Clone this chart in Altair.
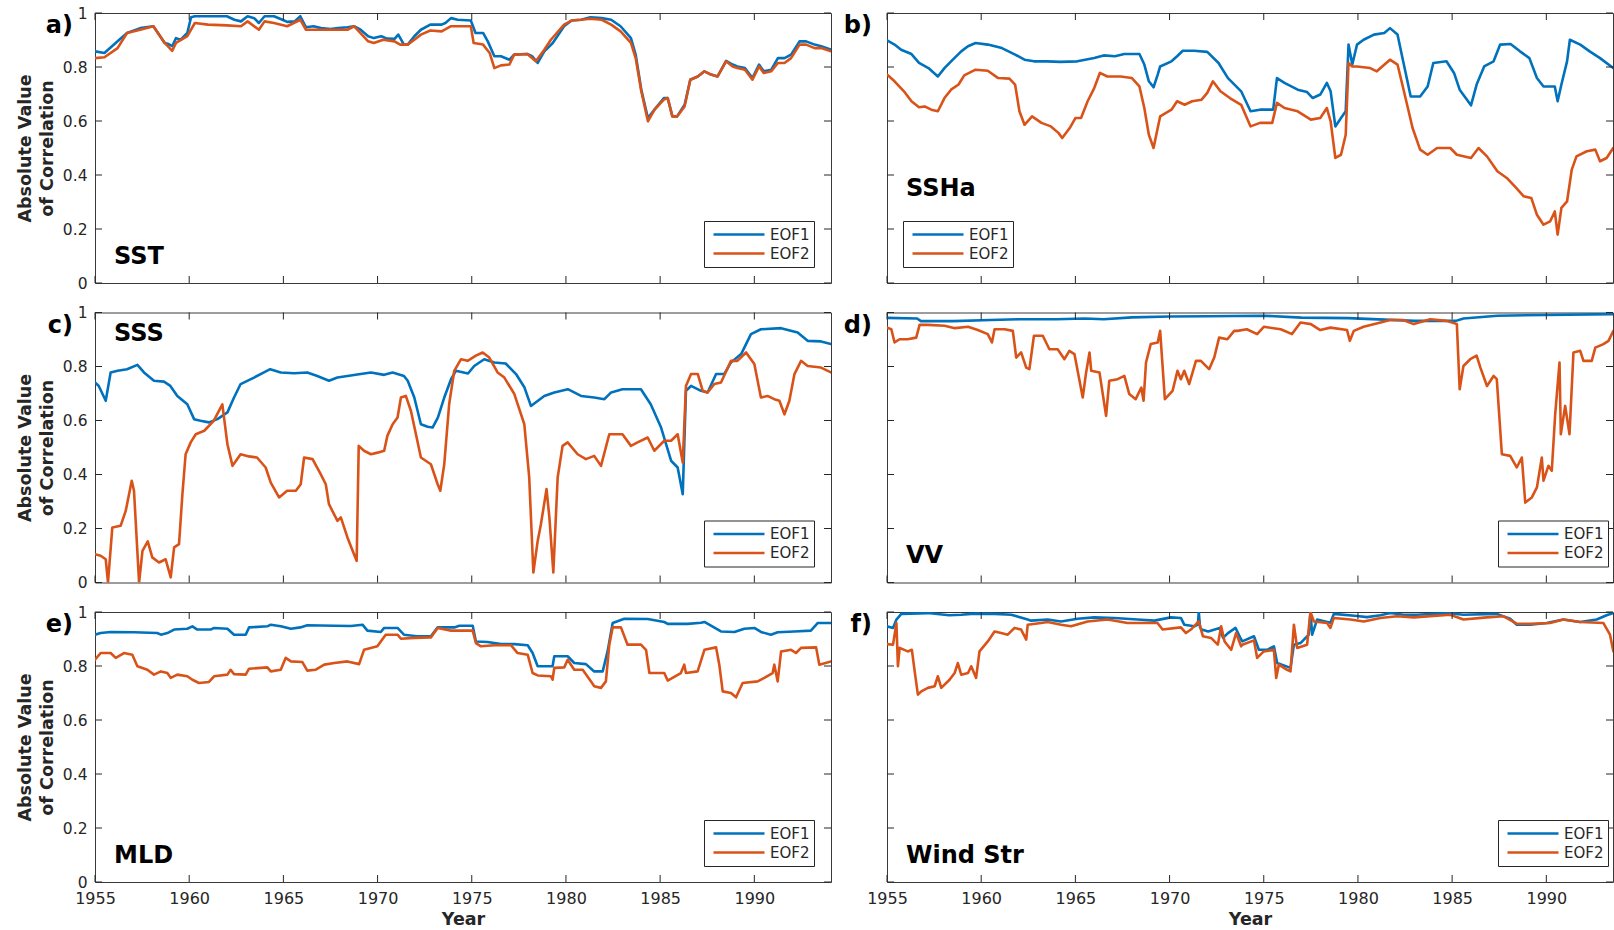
import altair as alt
import pandas as pd

FONT = "DejaVu Sans"
INK = "#262626"
BOX = "#3a3a3a"
SERIES = ["EOF1", "EOF2"]
SERIES_COLORS = ["#0072BD", "#D95319"]
YEAR_TICKS = [1955, 1960, 1965, 1970, 1975, 1980, 1985, 1990]
CORR_TICKS = [0, 0.2, 0.4, 0.6, 0.8, 1]
Y_TITLE = ["Absolute Value", "of Correlation"]

# (year, |correlation|) pairs for each variable and EOF
SST_EOF1 = [
    (1955.0, 0.858), (1955.5, 0.852), (1956.2, 0.895), (1956.7, 0.926), (1957.4, 0.944),
    (1958.1, 0.951), (1958.7, 0.889), (1958.9, 0.885), (1959.1, 0.877), (1959.3, 0.907),
    (1959.55, 0.901), (1959.9, 0.926), (1960.1, 0.984), (1960.3, 0.988), (1961.0, 0.988),
    (1962.0, 0.988), (1962.4, 0.975), (1962.75, 0.969), (1963.1, 0.988), (1963.45, 0.981),
    (1963.7, 0.963), (1964.0, 0.988), (1964.5, 0.988), (1964.95, 0.975), (1965.2, 0.967),
    (1965.6, 0.969), (1965.9, 0.988), (1966.2, 0.947), (1966.6, 0.951), (1967.0, 0.944),
    (1967.5, 0.941), (1967.9, 0.944), (1968.4, 0.947), (1968.75, 0.951), (1969.1, 0.938),
    (1969.5, 0.914), (1969.8, 0.907), (1970.2, 0.914), (1970.5, 0.905), (1970.9, 0.904),
    (1971.1, 0.920), (1971.4, 0.883), (1971.6, 0.883), (1971.95, 0.914), (1972.3, 0.938),
    (1972.8, 0.957), (1973.4, 0.957), (1973.6, 0.963), (1973.9, 0.981), (1974.25, 0.975),
    (1974.95, 0.972), (1975.2, 0.926), (1975.6, 0.926), (1975.85, 0.895), (1976.2, 0.840),
    (1976.55, 0.840), (1977.0, 0.827), (1977.25, 0.846), (1977.95, 0.848), (1978.2, 0.840),
    (1978.5, 0.815), (1978.85, 0.858), (1979.3, 0.889), (1979.9, 0.951), (1980.3, 0.972),
    (1980.8, 0.975), (1981.3, 0.984), (1981.9, 0.981), (1982.4, 0.975), (1982.9, 0.951),
    (1983.45, 0.907), (1983.7, 0.846), (1984.0, 0.716), (1984.35, 0.611), (1984.7, 0.642),
    (1985.2, 0.685), (1985.4, 0.685), (1985.65, 0.617), (1985.9, 0.617), (1986.3, 0.660),
    (1986.6, 0.753), (1987.0, 0.765), (1987.35, 0.784), (1987.7, 0.772), (1988.05, 0.765),
    (1988.5, 0.823), (1988.85, 0.809), (1989.1, 0.802), (1989.5, 0.796), (1989.9, 0.759),
    (1990.25, 0.809), (1990.5, 0.784), (1990.9, 0.790), (1991.25, 0.833), (1991.6, 0.833),
    (1991.95, 0.846), (1992.4, 0.895), (1992.75, 0.895), (1993.2, 0.883), (1993.55, 0.877),
    (1994.07, 0.864),
]
SST_EOF2 = [
    (1955.0, 0.833), (1955.5, 0.836), (1956.2, 0.870), (1956.7, 0.926), (1957.4, 0.938),
    (1958.1, 0.951), (1958.7, 0.889), (1959.1, 0.860), (1959.3, 0.889), (1959.9, 0.914),
    (1960.3, 0.963), (1961.0, 0.957), (1962.0, 0.954), (1962.75, 0.951), (1963.1, 0.969),
    (1963.7, 0.938), (1964.0, 0.969), (1964.5, 0.963), (1965.2, 0.951), (1965.9, 0.975),
    (1966.2, 0.938), (1967.0, 0.938), (1968.4, 0.938), (1968.75, 0.951), (1969.5, 0.895),
    (1969.8, 0.889), (1970.3, 0.901), (1970.9, 0.895), (1971.2, 0.883), (1971.6, 0.883),
    (1971.95, 0.901), (1972.3, 0.920), (1972.8, 0.935), (1973.4, 0.932), (1973.9, 0.951),
    (1974.95, 0.951), (1975.1, 0.889), (1975.6, 0.883), (1975.95, 0.852), (1976.2, 0.796),
    (1976.55, 0.806), (1977.0, 0.809), (1977.25, 0.846), (1977.95, 0.848), (1978.4, 0.821),
    (1978.85, 0.864), (1979.2, 0.901), (1979.9, 0.957), (1980.3, 0.972), (1980.8, 0.975),
    (1981.3, 0.979), (1981.9, 0.975), (1982.4, 0.957), (1982.9, 0.932), (1983.45, 0.889),
    (1983.7, 0.833), (1984.0, 0.710), (1984.35, 0.599), (1984.7, 0.642), (1985.2, 0.679),
    (1985.4, 0.685), (1985.65, 0.617), (1985.9, 0.617), (1986.3, 0.654), (1986.6, 0.753),
    (1987.0, 0.765), (1987.35, 0.784), (1987.7, 0.772), (1988.05, 0.765), (1988.5, 0.821),
    (1988.85, 0.802), (1989.1, 0.796), (1989.5, 0.790), (1989.9, 0.753), (1990.25, 0.802),
    (1990.5, 0.778), (1990.9, 0.784), (1991.25, 0.815), (1991.6, 0.815), (1991.95, 0.833),
    (1992.4, 0.883), (1992.75, 0.883), (1993.2, 0.870), (1993.55, 0.870), (1994.07, 0.858),
]

SSHA_EOF1 = [
    (1955.0, 0.899), (1955.4, 0.883), (1955.75, 0.864), (1956.3, 0.848), (1956.7, 0.815),
    (1957.2, 0.796), (1957.7, 0.765), (1958.05, 0.796), (1958.4, 0.821), (1958.94, 0.858),
    (1959.3, 0.877), (1959.7, 0.889), (1960.35, 0.883), (1961.1, 0.870), (1961.8, 0.846),
    (1962.3, 0.827), (1962.8, 0.821), (1963.5, 0.821), (1964.2, 0.819), (1965.1, 0.821),
    (1966.0, 0.833), (1966.5, 0.843), (1967.1, 0.840), (1967.6, 0.848), (1968.4, 0.848),
    (1968.66, 0.809), (1968.9, 0.747), (1969.15, 0.725), (1969.37, 0.772), (1969.5, 0.802),
    (1970.1, 0.821), (1970.4, 0.840), (1970.7, 0.860), (1971.3, 0.860), (1972.0, 0.856),
    (1972.6, 0.815), (1973.1, 0.759), (1973.8, 0.710), (1974.3, 0.636), (1974.8, 0.642),
    (1975.5, 0.642), (1975.7, 0.759), (1976.1, 0.741), (1976.8, 0.716), (1977.3, 0.707),
    (1977.6, 0.685), (1978.0, 0.698), (1978.35, 0.741), (1978.55, 0.710), (1978.8, 0.580),
    (1979.1, 0.611), (1979.35, 0.636), (1979.5, 0.883), (1979.7, 0.809), (1979.95, 0.883),
    (1980.3, 0.901), (1980.85, 0.920), (1981.4, 0.926), (1981.7, 0.944), (1982.1, 0.920),
    (1982.4, 0.821), (1982.8, 0.691), (1983.3, 0.691), (1983.7, 0.728), (1984.0, 0.815),
    (1984.7, 0.821), (1985.1, 0.778), (1985.4, 0.716), (1986.0, 0.658), (1986.3, 0.735),
    (1986.7, 0.802), (1987.2, 0.821), (1987.55, 0.883), (1988.1, 0.885), (1988.6, 0.858),
    (1989.1, 0.833), (1989.5, 0.759), (1989.85, 0.728), (1990.45, 0.728), (1990.6, 0.673),
    (1990.8, 0.735), (1991.1, 0.821), (1991.25, 0.901), (1991.8, 0.883), (1992.3, 0.858),
    (1992.85, 0.833), (1993.55, 0.796), (1994.07, 0.790),
]
SSHA_EOF2 = [
    (1955.0, 0.772), (1955.4, 0.747), (1955.9, 0.710), (1956.3, 0.673), (1956.7, 0.651),
    (1957.0, 0.654), (1957.35, 0.642), (1957.7, 0.636), (1958.05, 0.685), (1958.4, 0.716),
    (1958.8, 0.735), (1959.1, 0.769), (1959.7, 0.790), (1960.35, 0.786), (1960.9, 0.759),
    (1961.5, 0.757), (1961.8, 0.735), (1962.03, 0.636), (1962.3, 0.586), (1962.7, 0.617),
    (1963.2, 0.593), (1963.7, 0.580), (1964.1, 0.556), (1964.3, 0.537), (1964.7, 0.574),
    (1965.0, 0.611), (1965.3, 0.611), (1965.65, 0.673), (1966.0, 0.722), (1966.3, 0.778),
    (1966.7, 0.765), (1967.4, 0.765), (1968.0, 0.759), (1968.4, 0.728), (1968.66, 0.648),
    (1968.9, 0.549), (1969.15, 0.500), (1969.37, 0.574), (1969.5, 0.617), (1970.1, 0.642),
    (1970.4, 0.673), (1970.8, 0.660), (1971.2, 0.673), (1971.7, 0.679), (1972.0, 0.704),
    (1972.3, 0.747), (1972.7, 0.710), (1973.2, 0.685), (1973.8, 0.660), (1974.3, 0.580),
    (1974.8, 0.593), (1975.45, 0.593), (1975.7, 0.667), (1976.1, 0.648), (1976.8, 0.636),
    (1977.5, 0.605), (1978.0, 0.611), (1978.35, 0.648), (1978.55, 0.599), (1978.8, 0.463),
    (1979.1, 0.475), (1979.35, 0.549), (1979.5, 0.815), (1979.7, 0.802), (1979.95, 0.802),
    (1980.65, 0.796), (1981.0, 0.784), (1981.7, 0.827), (1982.1, 0.809), (1982.4, 0.722),
    (1982.9, 0.574), (1983.3, 0.494), (1983.7, 0.475), (1984.2, 0.500), (1984.9, 0.500),
    (1985.25, 0.475), (1986.0, 0.463), (1986.4, 0.500), (1986.85, 0.469), (1987.4, 0.414),
    (1987.9, 0.389), (1988.4, 0.352), (1988.8, 0.321), (1989.2, 0.315), (1989.5, 0.253),
    (1989.85, 0.216), (1990.2, 0.228), (1990.45, 0.265), (1990.6, 0.179), (1990.8, 0.278),
    (1991.1, 0.302), (1991.35, 0.420), (1991.6, 0.469), (1992.15, 0.488), (1992.6, 0.494),
    (1992.85, 0.451), (1993.2, 0.463), (1993.55, 0.500), (1994.07, 0.512),
]

SSS_EOF1 = [
    (1955.0, 0.741), (1955.2, 0.728), (1955.57, 0.673), (1955.83, 0.778), (1956.2, 0.784),
    (1956.7, 0.790), (1957.25, 0.806), (1957.6, 0.778), (1958.13, 0.747), (1958.66, 0.744),
    (1959.0, 0.728), (1959.37, 0.691), (1959.9, 0.660), (1960.26, 0.605), (1960.6, 0.599),
    (1961.05, 0.593), (1961.5, 0.605), (1962.03, 0.630), (1962.38, 0.685), (1962.73, 0.735),
    (1963.44, 0.759), (1963.97, 0.778), (1964.3, 0.790), (1964.86, 0.778), (1965.57, 0.775),
    (1966.27, 0.778), (1966.8, 0.765), (1967.42, 0.747), (1967.87, 0.759), (1968.4, 0.765),
    (1969.1, 0.772), (1969.65, 0.778), (1970.35, 0.769), (1970.8, 0.778), (1971.4, 0.765),
    (1971.6, 0.747), (1971.95, 0.685), (1972.3, 0.586), (1972.66, 0.577), (1972.92, 0.574),
    (1973.2, 0.611), (1973.54, 0.685), (1973.9, 0.753), (1974.16, 0.784), (1974.8, 0.774),
    (1975.13, 0.802), (1975.66, 0.827), (1976.2, 0.815), (1976.8, 0.811), (1977.35, 0.772),
    (1977.8, 0.722), (1978.14, 0.654), (1978.85, 0.691), (1979.38, 0.704), (1980.1, 0.716),
    (1980.8, 0.691), (1981.5, 0.685), (1982.04, 0.679), (1982.4, 0.704), (1983.0, 0.716),
    (1983.98, 0.716), (1984.5, 0.660), (1985.05, 0.574), (1985.58, 0.451), (1985.93, 0.426),
    (1986.2, 0.327), (1986.37, 0.710), (1986.64, 0.728), (1987.17, 0.710), (1987.52, 0.704),
    (1987.97, 0.772), (1988.4, 0.772), (1988.76, 0.815), (1989.3, 0.846), (1989.82, 0.920),
    (1990.35, 0.938), (1991.42, 0.942), (1992.3, 0.926), (1992.83, 0.895), (1993.54, 0.893),
    (1994.07, 0.883),
]
SSS_EOF2 = [
    (1955.0, 0.105), (1955.3, 0.099), (1955.57, 0.086), (1955.69, 0.0), (1955.92, 0.204),
    (1956.36, 0.210), (1956.63, 0.265), (1956.95, 0.377), (1957.07, 0.340), (1957.34, 0.0),
    (1957.52, 0.117), (1957.8, 0.152), (1958.04, 0.093), (1958.4, 0.074), (1958.75, 0.086),
    (1959.02, 0.019), (1959.2, 0.130), (1959.46, 0.142), (1959.64, 0.327), (1959.81, 0.475),
    (1960.08, 0.519), (1960.35, 0.549), (1960.8, 0.562), (1961.3, 0.599), (1961.76, 0.660),
    (1962.03, 0.512), (1962.3, 0.432), (1962.73, 0.475), (1963.17, 0.467), (1963.6, 0.463),
    (1964.06, 0.426), (1964.33, 0.370), (1964.77, 0.315), (1965.2, 0.340), (1965.66, 0.340),
    (1965.92, 0.364), (1966.1, 0.463), (1966.55, 0.457), (1966.98, 0.401), (1967.25, 0.364),
    (1967.42, 0.290), (1967.87, 0.228), (1968.05, 0.241), (1968.4, 0.167), (1968.75, 0.105),
    (1968.89, 0.080), (1969.0, 0.506), (1969.28, 0.488), (1969.65, 0.475), (1970.0, 0.481),
    (1970.35, 0.488), (1970.52, 0.543), (1970.8, 0.586), (1971.06, 0.611), (1971.24, 0.685),
    (1971.5, 0.691), (1971.77, 0.636), (1972.3, 0.463), (1972.83, 0.438), (1973.19, 0.364),
    (1973.33, 0.340), (1973.54, 0.438), (1973.8, 0.660), (1974.07, 0.784), (1974.43, 0.827),
    (1974.78, 0.821), (1975.22, 0.840), (1975.58, 0.852), (1975.93, 0.833), (1976.37, 0.778),
    (1976.73, 0.759), (1977.26, 0.698), (1977.79, 0.586), (1978.05, 0.389), (1978.27, 0.037),
    (1978.5, 0.154), (1978.67, 0.216), (1978.97, 0.346), (1979.12, 0.241), (1979.33, 0.037),
    (1979.56, 0.389), (1979.82, 0.506), (1980.09, 0.519), (1980.62, 0.475), (1981.06, 0.457),
    (1981.5, 0.469), (1981.86, 0.432), (1982.3, 0.549), (1983.0, 0.549), (1983.45, 0.506),
    (1983.8, 0.519), (1984.34, 0.537), (1984.69, 0.488), (1985.22, 0.525), (1985.58, 0.525),
    (1985.93, 0.549), (1986.2, 0.444), (1986.37, 0.728), (1986.64, 0.772), (1987.0, 0.772),
    (1987.26, 0.710), (1987.52, 0.704), (1987.88, 0.735), (1988.23, 0.741), (1988.76, 0.821),
    (1989.1, 0.821), (1989.56, 0.852), (1990.0, 0.809), (1990.35, 0.685), (1990.7, 0.691),
    (1991.06, 0.679), (1991.33, 0.673), (1991.6, 0.623), (1991.86, 0.673), (1992.13, 0.772),
    (1992.48, 0.821), (1992.83, 0.802), (1993.54, 0.796), (1994.07, 0.778),
]

VV_EOF1 = [
    (1955.0, 0.980), (1956.6, 0.978), (1956.8, 0.968), (1958.5, 0.968), (1960.5, 0.972),
    (1962.0, 0.975), (1964.0, 0.975), (1965.5, 0.978), (1966.5, 0.975), (1968.0, 0.982),
    (1970.0, 0.985), (1972.0, 0.986), (1975.0, 0.988), (1977.0, 0.981), (1979.5, 0.979),
    (1983.0, 0.969), (1985.2, 0.969), (1985.6, 0.978), (1987.4, 0.988), (1990.0, 0.991),
    (1993.5, 0.994), (1994.07, 0.994),
]
VV_EOF2 = [
    (1955.0, 0.944), (1955.23, 0.938), (1955.4, 0.889), (1955.67, 0.901), (1956.1, 0.901),
    (1956.55, 0.907), (1956.73, 0.954), (1957.17, 0.954), (1958.06, 0.951), (1958.6, 0.942),
    (1959.3, 0.947), (1959.82, 0.935), (1960.35, 0.920), (1960.57, 0.889), (1960.71, 0.938),
    (1961.24, 0.938), (1961.68, 0.932), (1961.86, 0.833), (1962.12, 0.852), (1962.39, 0.796),
    (1962.56, 0.790), (1962.8, 0.914), (1963.27, 0.914), (1963.62, 0.864), (1964.06, 0.864),
    (1964.42, 0.827), (1964.68, 0.858), (1964.95, 0.846), (1965.39, 0.685), (1965.57, 0.778),
    (1965.75, 0.852), (1965.84, 0.784), (1966.28, 0.778), (1966.63, 0.617), (1966.8, 0.747),
    (1967.24, 0.753), (1967.6, 0.765), (1967.86, 0.698), (1968.2, 0.679), (1968.5, 0.722),
    (1968.62, 0.673), (1968.75, 0.815), (1969.0, 0.883), (1969.37, 0.889), (1969.5, 0.932),
    (1969.75, 0.679), (1970.16, 0.710), (1970.42, 0.784), (1970.6, 0.753), (1970.78, 0.784),
    (1971.04, 0.735), (1971.4, 0.821), (1971.66, 0.821), (1972.1, 0.790), (1972.37, 0.833),
    (1972.63, 0.907), (1973.07, 0.901), (1973.43, 0.932), (1973.6, 0.932), (1974.1, 0.938),
    (1974.65, 0.920), (1975.0, 0.947), (1975.9, 0.938), (1976.5, 0.920), (1976.95, 0.963),
    (1977.5, 0.957), (1978.0, 0.935), (1978.54, 0.944), (1979.42, 0.935), (1979.57, 0.895),
    (1979.78, 0.932), (1980.3, 0.947), (1981.2, 0.963), (1981.7, 0.972), (1982.4, 0.972),
    (1982.96, 0.957), (1983.84, 0.975), (1984.7, 0.969), (1985.25, 0.957), (1985.4, 0.716),
    (1985.6, 0.802), (1985.96, 0.827), (1986.3, 0.840), (1986.5, 0.796), (1986.85, 0.728),
    (1987.2, 0.765), (1987.37, 0.753), (1987.64, 0.475), (1988.08, 0.469), (1988.43, 0.426),
    (1988.7, 0.463), (1988.88, 0.296), (1989.23, 0.315), (1989.5, 0.352), (1989.76, 0.463),
    (1989.85, 0.377), (1990.11, 0.432), (1990.29, 0.414), (1990.47, 0.623), (1990.7, 0.815),
    (1990.77, 0.549), (1991.0, 0.654), (1991.23, 0.549), (1991.44, 0.852), (1991.8, 0.858),
    (1991.97, 0.821), (1992.41, 0.821), (1992.6, 0.870), (1993.03, 0.883), (1993.3, 0.895),
    (1993.56, 0.932), (1994.07, 0.944),
]

MLD_EOF1 = [
    (1955.0, 0.916), (1955.3, 0.922), (1955.83, 0.926), (1957.07, 0.925), (1958.3, 0.922),
    (1958.5, 0.916), (1958.84, 0.922), (1959.2, 0.935), (1959.9, 0.938), (1960.17, 0.947),
    (1960.43, 0.935), (1961.14, 0.935), (1961.32, 0.941), (1962.03, 0.938), (1962.38, 0.916),
    (1963.0, 0.916), (1963.18, 0.943), (1964.15, 0.947), (1964.33, 0.953), (1964.86, 0.947),
    (1965.4, 0.938), (1965.9, 0.943), (1966.27, 0.951), (1967.7, 0.949), (1968.58, 0.948),
    (1969.2, 0.953), (1969.46, 0.931), (1970.17, 0.926), (1970.35, 0.941), (1971.06, 0.941),
    (1971.4, 0.916), (1972.1, 0.910), (1972.83, 0.910), (1973.19, 0.943), (1974.07, 0.943),
    (1974.34, 0.949), (1975.05, 0.949), (1975.22, 0.891), (1975.84, 0.889), (1976.55, 0.881),
    (1977.26, 0.881), (1977.97, 0.877), (1978.23, 0.848), (1978.5, 0.799), (1979.29, 0.799),
    (1979.38, 0.836), (1980.09, 0.836), (1980.44, 0.811), (1981.06, 0.807), (1981.5, 0.780),
    (1981.95, 0.780), (1982.21, 0.854), (1982.48, 0.959), (1983.1, 0.975), (1984.34, 0.974),
    (1985.22, 0.963), (1985.4, 0.956), (1986.46, 0.956), (1987.17, 0.960), (1987.35, 0.963),
    (1988.23, 0.928), (1988.94, 0.926), (1989.47, 0.938), (1990.0, 0.941), (1990.35, 0.926),
    (1990.88, 0.916), (1991.24, 0.925), (1992.12, 0.928), (1993.0, 0.931), (1993.36, 0.959),
    (1994.07, 0.959),
]
MLD_EOF2 = [
    (1955.0, 0.823), (1955.3, 0.848), (1955.83, 0.848), (1956.1, 0.830), (1956.54, 0.848),
    (1956.98, 0.842), (1957.25, 0.799), (1957.78, 0.786), (1958.13, 0.768), (1958.5, 0.780),
    (1958.84, 0.774), (1959.02, 0.756), (1959.37, 0.768), (1959.9, 0.762), (1960.17, 0.749),
    (1960.52, 0.737), (1961.05, 0.741), (1961.32, 0.762), (1962.03, 0.768), (1962.2, 0.786),
    (1962.38, 0.770), (1963.0, 0.768), (1963.18, 0.790), (1963.8, 0.793), (1964.15, 0.795),
    (1964.33, 0.780), (1964.86, 0.786), (1965.12, 0.830), (1965.4, 0.817), (1966.0, 0.815),
    (1966.27, 0.783), (1966.7, 0.786), (1967.17, 0.805), (1967.7, 0.811), (1968.4, 0.817),
    (1969.02, 0.807), (1969.28, 0.860), (1969.99, 0.873), (1970.43, 0.916), (1971.06, 0.916),
    (1971.24, 0.901), (1971.95, 0.904), (1972.83, 0.906), (1973.19, 0.941), (1973.9, 0.931),
    (1975.05, 0.931), (1975.22, 0.885), (1975.49, 0.873), (1976.2, 0.877), (1977.08, 0.877),
    (1977.43, 0.848), (1977.97, 0.842), (1978.23, 0.774), (1978.5, 0.765), (1979.2, 0.762),
    (1979.29, 0.749), (1979.38, 0.793), (1979.91, 0.795), (1980.09, 0.823), (1980.44, 0.786),
    (1980.89, 0.786), (1981.33, 0.743), (1981.5, 0.725), (1981.86, 0.719), (1982.12, 0.743),
    (1982.3, 0.879), (1982.48, 0.943), (1982.92, 0.943), (1983.27, 0.879), (1983.98, 0.879),
    (1984.25, 0.860), (1984.43, 0.774), (1985.22, 0.774), (1985.4, 0.746), (1986.1, 0.774),
    (1986.28, 0.805), (1986.37, 0.774), (1986.99, 0.780), (1987.35, 0.860), (1987.97, 0.869),
    (1988.14, 0.805), (1988.32, 0.706), (1988.76, 0.700), (1989.03, 0.684), (1989.38, 0.737),
    (1990.18, 0.743), (1990.53, 0.756), (1990.97, 0.774), (1991.06, 0.805), (1991.24, 0.743),
    (1991.42, 0.854), (1991.95, 0.860), (1992.21, 0.848), (1992.48, 0.867), (1993.28, 0.869),
    (1993.45, 0.805), (1994.07, 0.817),
]

WIND_EOF1 = [
    (1955.0, 0.947), (1955.32, 0.941), (1955.5, 0.972), (1955.76, 0.993), (1957.17, 0.996),
    (1958.3, 0.988), (1958.94, 0.990), (1959.65, 0.994), (1960.71, 0.993), (1961.6, 0.990),
    (1962.47, 0.972), (1962.65, 0.968), (1963.53, 0.972), (1964.24, 0.965), (1965.12, 0.975),
    (1966.0, 0.980), (1967.07, 0.978), (1968.3, 0.972), (1969.19, 0.968), (1970.07, 0.980),
    (1970.6, 0.978), (1970.78, 0.953), (1971.32, 0.947), (1971.5, 0.953), (1971.55, 1.0),
    (1971.62, 0.943), (1971.7, 0.935), (1972.05, 0.928), (1972.66, 0.941), (1972.84, 0.904),
    (1973.1, 0.922), (1973.5, 0.941), (1973.8, 0.898), (1973.86, 0.891), (1974.48, 0.910),
    (1974.74, 0.860), (1975.18, 0.860), (1975.54, 0.873), (1975.71, 0.811), (1976.42, 0.793),
    (1976.6, 0.879), (1976.95, 0.885), (1977.39, 0.916), (1977.48, 1.0), (1977.57, 0.916),
    (1977.83, 0.972), (1978.54, 0.960), (1978.72, 0.993), (1979.95, 0.985), (1980.48, 0.981),
    (1981.19, 0.988), (1981.72, 0.996), (1982.43, 0.990), (1983.13, 0.990), (1984.72, 0.996),
    (1985.6, 0.990), (1987.37, 0.993), (1988.08, 0.975), (1988.43, 0.953), (1989.14, 0.953),
    (1990.02, 0.959), (1990.9, 0.972), (1991.79, 0.963), (1992.67, 0.972), (1993.2, 0.988),
    (1993.56, 0.996), (1994.07, 0.996),
]
WIND_EOF2 = [
    (1955.0, 0.881), (1955.32, 0.879), (1955.5, 0.959), (1955.58, 0.799), (1955.67, 0.867),
    (1956.1, 0.854), (1956.32, 0.860), (1956.47, 0.780), (1956.64, 0.694), (1956.82, 0.706),
    (1957.17, 0.719), (1957.53, 0.725), (1957.7, 0.762), (1957.88, 0.719), (1958.32, 0.749),
    (1958.59, 0.774), (1958.76, 0.811), (1958.94, 0.768), (1959.3, 0.774), (1959.47, 0.799),
    (1959.73, 0.756), (1959.91, 0.854), (1960.35, 0.891), (1960.71, 0.928), (1961.06, 0.922),
    (1961.41, 0.916), (1961.77, 0.941), (1962.12, 0.935), (1962.39, 0.898), (1962.47, 0.953),
    (1963.18, 0.959), (1963.53, 0.963), (1964.24, 0.953), (1964.77, 0.947), (1965.65, 0.965),
    (1966.71, 0.972), (1967.77, 0.959), (1968.83, 0.959), (1969.36, 0.959), (1969.63, 0.935),
    (1970.6, 0.943), (1970.87, 0.922), (1971.13, 0.935), (1971.55, 0.965), (1971.77, 0.910),
    (1972.2, 0.904), (1972.56, 0.879), (1972.74, 0.947), (1972.92, 0.891), (1973.27, 0.860),
    (1973.53, 0.922), (1973.8, 0.873), (1973.86, 0.879), (1974.48, 0.895), (1974.65, 0.830),
    (1975.0, 0.854), (1975.54, 0.860), (1975.66, 0.756), (1975.8, 0.805), (1976.24, 0.786),
    (1976.42, 0.780), (1976.6, 0.953), (1976.77, 0.867), (1977.3, 0.879), (1977.48, 1.0),
    (1977.66, 0.965), (1978.36, 0.959), (1978.54, 0.941), (1978.72, 0.978), (1979.6, 0.972),
    (1980.31, 0.965), (1981.19, 0.978), (1982.07, 0.984), (1982.96, 0.980), (1984.9, 0.990),
    (1985.6, 0.972), (1986.84, 0.980), (1987.73, 0.984), (1988.43, 0.957), (1989.14, 0.956),
    (1990.2, 0.959), (1990.9, 0.972), (1991.79, 0.963), (1993.03, 0.959), (1993.38, 0.916),
    (1993.56, 0.854), (1994.07, 0.830),
]

# panel geometry (pixels) and x extents (years)
LEFT_W = 736
RIGHT_W = 726
PANEL_H = 270
TICK_LEN = 7
X_START = 1955
LEFT_X_END = 1994.07
RIGHT_X_END = X_START + RIGHT_W * (LEFT_X_END - X_START) / LEFT_W


def panel(letter, name, name_y, eof1, eof2, col, row, legend_x):
    width = LEFT_W if col == 0 else RIGHT_W
    x_end = LEFT_X_END if col == 0 else RIGHT_X_END
    frames = [
        pd.DataFrame(pts, columns=["year", "value"]).assign(series=label)
        for label, pts in zip(SERIES, (eof1, eof2))
    ]
    df = pd.concat(frames, ignore_index=True)

    x_scale = alt.Scale(domain=[X_START, x_end], nice=False, zero=False)
    y_scale = alt.Scale(domain=[0, 1], nice=False)

    if row == 2:
        x_axis = alt.Axis(
            values=YEAR_TICKS, format="d", title="Year", ticks=False, tickSize=0,
            domain=False, grid=False, labelFlush=False, labelPadding=8.5,
            labelFont=FONT, labelFontSize=16, labelColor=INK,
            titleFont=FONT, titleFontSize=17.5, titleFontWeight="bold",
            titleColor=INK, titlePadding=4,
        )
    else:
        x_axis = None
    if col == 0:
        y_axis = alt.Axis(
            values=CORR_TICKS, format="~g", title=Y_TITLE, ticks=False, tickSize=0,
            domain=False, grid=False, labelFlush=False, labelPadding=8,
            labelFont=FONT, labelFontSize=15.5, labelColor=INK,
            titleFont=FONT, titleFontSize=17.5, titleFontWeight="bold",
            titleColor=INK, titlePadding=6, titleLineHeight=22,
        )
    else:
        y_axis = None

    legend = alt.Legend(
        title=None, orient="none", legendX=legend_x, legendY=208,
        symbolType="stroke", symbolSize=2601, symbolStrokeWidth=2.6,
        symbolOffset=4, labelOffset=4, labelFont=FONT, labelFontSize=15,
        labelColor=INK, padding=4, rowPadding=0, clipHeight=19,
        fillColor="white", strokeColor=INK,
    )

    lines = alt.Chart(df).mark_line(
        strokeWidth=2.6, clip=True, strokeJoin="round", strokeCap="round"
    ).encode(
        x=alt.X("year:Q", scale=x_scale, axis=x_axis),
        y=alt.Y("value:Q", scale=y_scale, axis=y_axis),
        color=alt.Color(
            "series:N",
            scale=alt.Scale(domain=SERIES, range=SERIES_COLORS),
            legend=legend,
        ),
    )

    # inward-pointing ticks on all four sides of the box
    xt = pd.DataFrame({"year": YEAR_TICKS})
    yt = pd.DataFrame({"value": CORR_TICKS})
    rule = dict(color=INK, strokeWidth=1)
    tx = alt.X("year:Q", scale=x_scale, axis=x_axis)
    ty = alt.Y("value:Q", scale=y_scale, axis=y_axis)
    top_ticks = alt.Chart(xt).mark_rule(**rule).encode(
        x=tx, y=alt.value(0), y2=alt.value(TICK_LEN))
    bottom_ticks = alt.Chart(xt).mark_rule(**rule).encode(
        x=tx, y=alt.value(PANEL_H), y2=alt.value(PANEL_H - TICK_LEN))
    left_ticks = alt.Chart(yt).mark_rule(**rule).encode(
        y=ty, x=alt.value(0), x2=alt.value(TICK_LEN))
    right_ticks = alt.Chart(yt).mark_rule(**rule).encode(
        y=ty, x=alt.value(width), x2=alt.value(width - TICK_LEN))

    letter_text = alt.Chart(pd.DataFrame({"label": [letter]})).mark_text(
        font=FONT, fontSize=24, fontWeight="bold", align="right",
        baseline="middle", color="black",
    ).encode(text="label:N", x=alt.value(-22 if col == 0 else -15), y=alt.value(13))

    name_text = alt.Chart(pd.DataFrame({"label": [name]})).mark_text(
        font=FONT, fontSize=24, fontWeight="bold", align="left",
        baseline="middle", color="black",
    ).encode(text="label:N", x=alt.value(19), y=alt.value(name_y))

    layers = [lines, top_ticks, bottom_ticks, left_ticks, right_ticks, letter_text, name_text]
    if col == 0 and row == 0:
        # invisible point fixing the top-left corner of the whole figure
        corner = alt.Chart(pd.DataFrame({"k": [0]})).mark_rule(opacity=0).encode(
            x=alt.value(-94), x2=alt.value(-94), y=alt.value(-12), y2=alt.value(-12))
        layers.append(corner)
    return alt.layer(*layers).properties(width=width, height=PANEL_H)


panels = [
    panel("a)", "SST", 243.5, SST_EOF1, SST_EOF2, 0, 0, 609),
    panel("b)", "SSHa", 176, SSHA_EOF1, SSHA_EOF2, 1, 0, 16),
    panel("c)", "SSS", 21.5, SSS_EOF1, SSS_EOF2, 0, 1, 609),
    panel("d)", "VV", 243.5, VV_EOF1, VV_EOF2, 1, 1, 611),
    panel("e)", "MLD", 244, MLD_EOF1, MLD_EOF2, 0, 2, 609),
    panel("f)", "Wind Str", 244, WIND_EOF1, WIND_EOF2, 1, 2, 611),
]

chart = (
    alt.concat(*panels, columns=2, spacing={"row": 29.5, "column": 56}, bounds="flush")
    .resolve_scale(x="independent", y="independent", color="independent")
    .resolve_legend(color="independent")
    .properties(padding=0)
    .configure_view(stroke=BOX, strokeWidth=1)
)

chart.save("out.html", embed_options={"renderer": "svg", "actions": False})
